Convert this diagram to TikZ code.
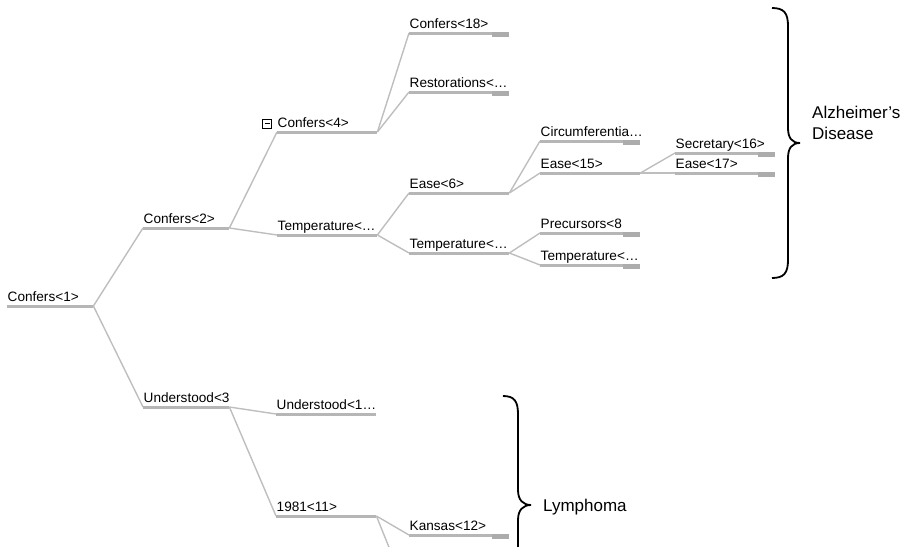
\documentclass[tikz,border=0pt]{standalone}
\usepackage{fontspec}
\setmainfont{Liberation Sans}
\begin{document}
\definecolor{barcol}{RGB}{182,182,182}
\definecolor{linkcol}{RGB}{190,190,190}
\definecolor{tabcol}{RGB}{172,172,172}
\begin{tikzpicture}[x=1pt,y=-1pt,
  tn/.style={anchor=south west,inner xsep=0.5pt,inner ysep=0pt,
    text height=10pt,text depth=4pt,align=left,
    font=\fontsize{13.6}{15}\selectfont,text width=99pt},
  tnw/.style={tn,text width=85pt},
  bar/.style={draw=barcol,line width=3pt},
  tab/.style={fill=tabcol},
  link/.style={draw=linkcol,line width=1.4pt},
  brace/.style={draw=black,line width=1.8pt},
  group/.style={anchor=base west,inner sep=0pt,align=left,
    font=\fontsize{17}{20.5}\selectfont}]
\useasboundingbox (0,0) rectangle (912,546);
\clip (0,0) rectangle (912,546);

% tree nodes: text sits on an underline bar
\node[tnw] (n1)  at (7,306)   {Confers<1>};
\node[tnw] (n2)  at (143,228) {Confers<2>};
\node[tnw] (n3)  at (143,407) {Understood<3};
\node[tn]  (n4)  at (277,132) {Confers<4>};
\node[tn]  (n5)  at (277,235) {Temperature<…};
\node[tn]  (n18) at (409,33)  {Confers<18>};
\node[tn]  (n19) at (409,92)  {Restorations<…};
\node[tn]  (n6)  at (409,193) {Ease<6>};
\node[tn]  (n7)  at (409,253) {Temperature<…};
\node[tn]  (n14) at (540,141) {Circumferentia…};
\node[tn]  (n15) at (540,173) {Ease<15>};
\node[tn]  (n8)  at (540,233) {Precursors<8};
\node[tn]  (n9)  at (540,265) {Temperature<…};
\node[tn]  (n16) at (675,153) {Secretary<16>};
\node[tn]  (n17) at (675,173) {Ease<17>};
\node[tn]  (n10) at (276,414) {Understood<1…};
\node[tn]  (n11) at (276,516) {1981<11>};
\node[tn]  (n12) at (409,535) {Kansas<12>};
\coordinate (n13) at (409,597);

% collapse toggle
\node[draw,line width=0.8pt,minimum size=9pt,inner sep=0pt,
  path picture={\draw[line width=0.8pt]
    ([xshift=2pt]path picture bounding box.west) --
    ([xshift=-2pt]path picture bounding box.east);}] (tog) at (267,123.5) {};

% connectors
\foreach \a/\b in {n1/n2,n1/n3,n2/n4,n2/n5,n4/n18,n4/n19,n5/n6,n5/n7,
  n6/n14,n6/n15,n7/n8,n7/n9,n15/n16,n15/n17,n3/n10,n3/n11,n11/n12}
  \draw[link] (\a.south east) -- (\b.south west);
\draw[link] (n11.south east) -- (n13);

% underline bars
\foreach \n in {n1,n2,n3,n4,n5,n18,n19,n6,n7,n14,n15,n8,n9,n16,n17,n10,n11,n12}
  \draw[bar] (\n.south west) -- (\n.south east);
% leaf tabs
\foreach \n in {n18,n19,n14,n8,n9,n16,n17,n12}
  \fill[tab] ([xshift=-17pt,yshift=1.5pt]\n.south east) rectangle ([yshift=-3.5pt]\n.south east);

% group braces
\draw[brace] (772,8) .. controls (784,8) and (788,13) .. (788,26)
  -- (788,128) .. controls (788,138) and (792,143) .. (800,143)
  .. controls (792,143) and (788,148) .. (788,158)
  -- (788,260) .. controls (788,273) and (784,278) .. (772,278);
\node[group] (alz) at (812,139) {Alzheimer’s\\Disease};

\draw[brace] (503,396) .. controls (514,396) and (518,401) .. (518,414)
  -- (518,490) .. controls (518,500) and (523,505) .. (531,505)
  .. controls (523,505) and (518,510) .. (518,520)
  -- (518,596) .. controls (518,609) and (514,614) .. (503,614);
\node[group] (lym) at (543,511) {Lymphoma};
\end{tikzpicture}
\end{document}
